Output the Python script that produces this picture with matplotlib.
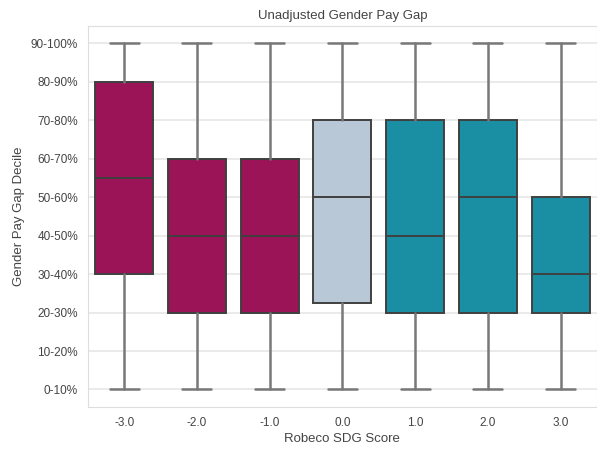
import matplotlib
matplotlib.use("Agg")
import matplotlib.pyplot as plt
import seaborn as sns

scores = ['-3.0', '-2.0', '-1.0', '0.0', '1.0', '2.0', '3.0']
decile_labels = ['0-10%', '10-20%', '20-30%', '30-40%', '40-50%',
                 '50-60%', '60-70%', '70-80%', '80-90%', '90-100%']

# box stats (decile index 0..9)
whis_lo = [0, 0, 0, 0, 0, 0, 0]
q1 = [3, 2, 2, 2.25, 2, 2, 2]
median = [5.5, 4, 4, 5, 4, 5, 3]
q3 = [8, 6, 6, 7, 7, 7, 5]
whis_hi = [9, 9, 9, 9, 9, 9, 9]

box_colors = ['#9c1458', '#9c1458', '#9c1458', '#b9c8d6', '#1a8fa3', '#1a8fa3', '#1a8fa3']

sns.set_style("whitegrid")
plt.rcParams['font.family'] = ['Liberation Sans', 'DejaVu Sans']

fig = plt.figure(figsize=(5.97, 4.49), dpi=100)
ax = fig.add_axes([0.147, 0.094, 0.853, 0.848])

stats = []
for i in range(len(scores)):
    stats.append(dict(med=median[i], q1=q1[i], q3=q3[i],
                      whislo=whis_lo[i], whishi=whis_hi[i], fliers=[]))

parts = ax.bxp(stats, positions=range(len(scores)), widths=0.8,
               patch_artist=True, showfliers=False,
               boxprops=dict(edgecolor='#404040', linewidth=1.4),
               medianprops=dict(color='#404040', linewidth=1.4),
               whiskerprops=dict(color='#787878', linewidth=1.8),
               capprops=dict(color='#787878', linewidth=1.8))
for patch, c in zip(parts['boxes'], box_colors):
    patch.set_facecolor(c)

ax.set_xlim(-0.5, 6.5)
ax.set_ylim(-0.45, 9.45)
ax.set_xticks(range(len(scores)))
ax.set_xticklabels(scores)
ax.set_yticks(range(10))
ax.set_yticklabels(decile_labels)
ax.tick_params(labelsize=8.5, colors='#444444')
ax.grid(axis='x', visible=False)
ax.grid(axis='y', color='#e6e6e6', linewidth=1.2)
for s in ax.spines.values():
    s.set_color('#dddddd')

ax.set_xlabel("Robeco SDG Score", fontsize=9.5, color='#444444', labelpad=3)
ax.set_ylabel("Gender Pay Gap Decile", fontsize=9.5, color='#444444')
ax.set_title("Unadjusted Gender Pay Gap", fontsize=9.5, color='#444444', pad=5)

fig.savefig("out.png", dpi=100)
